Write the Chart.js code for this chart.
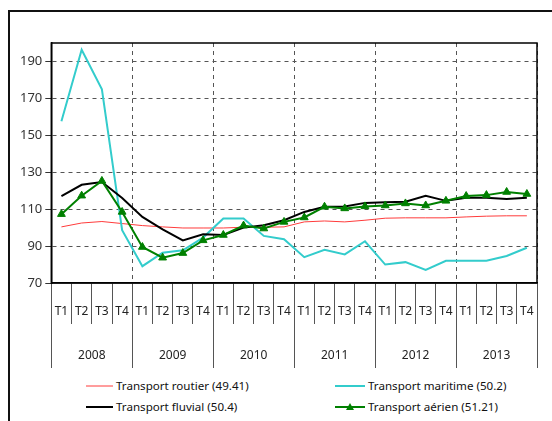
<!DOCTYPE html>
<html>
<head>
<meta charset="utf-8">
<script src="https://cdn.jsdelivr.net/npm/chart.js@4"></script>
<style>
  body { margin: 0; width: 552px; height: 421px; overflow: hidden; background: #fff; position: relative; font-family: "Noto Sans", sans-serif; }
  #frame { position: absolute; left: 8px; top: 10px; width: 600px; height: 500px; border-left: 2px solid #111; border-top: 2px solid #111; }
  #wrap { position: absolute; left: 0; top: 0; width: 552px; height: 368px; }
  #legend { position: absolute; left: 86px; top: 379px; display: grid; grid-template-columns: 249px auto; row-gap: 7px; font-size: 11.6px; line-height: 14px; color: #111; }
  #legend div { white-space: nowrap; display: flex; align-items: center; }
  #legend svg { margin-right: 3px; }
</style>
</head>
<body>
<div id="frame"></div>
<div id="wrap"><canvas id="chart"></canvas></div>
<div id="legend"></div>
<script>
// Catégories
const years = ['2008', '2009', '2010', '2011', '2012', '2013'];
const quarterLabels = ['T1','T2','T3','T4','T1','T2','T3','T4','T1','T2','T3','T4',
                       'T1','T2','T3','T4','T1','T2','T3','T4','T1','T2','T3','T4'];
const yTicks = [70, 90, 110, 130, 150, 170, 190];

// Séries
const routier = [100.4, 102.5, 103.3, 102.2, 101.1, 100.4, 99.8, 99.8, 99.8, 100.2, 100.2, 100.4,
                 103.1, 103.6, 103.1, 104.0, 105.1, 105.3, 105.3, 105.3, 105.8, 106.2, 106.4, 106.4];
const maritime = [157.6, 196.3, 174.9, 98.6, 79.1, 86.4, 87.7, 94.6, 104.9, 104.9, 95.5, 93.7,
                  84.0, 88.0, 85.5, 92.6, 80.0, 81.3, 77.1, 82.0, 82.0, 82.0, 84.6, 89.1];
const fluvial = [117.1, 123.2, 124.7, 116.0, 105.8, 99.1, 93.1, 96.4, 96.0, 100.0, 101.3, 104.0,
                 108.5, 111.3, 111.4, 113.4, 113.8, 114.0, 117.2, 114.5, 116.2, 116.2, 115.5, 116.2];
const aerien = [107.3, 117.3, 125.3, 108.5, 89.5, 83.7, 86.2, 93.1, 96.0, 101.1, 99.5, 103.1,
                105.5, 111.3, 110.4, 111.5, 112.0, 113.1, 112.0, 114.5, 117.1, 117.6, 119.3, 118.2];

const seriesNames = ['Transport routier (49.41)', 'Transport maritime (50.2)',
                     'Transport fluvial (50.4)', 'Transport aérien (51.21)'];
const seriesColors = ['#ff3b3b', '#33cccc', '#000000', '#008000'];

// Cadre de la zone de tracé
const plotFrame = {
    id: 'plotFrame',
    beforeDatasetsDraw(chart) {
        const { ctx, chartArea: a } = chart;
        ctx.save();
        ctx.strokeStyle = '#000';
        ctx.lineWidth = 1.5;
        ctx.strokeRect(a.left, a.top, a.right - a.left, a.bottom - a.top);
        ctx.restore();
    }
};

Chart.defaults.font.family = '"Noto Sans", sans-serif';
Chart.defaults.color = '#222';

const ctx = document.getElementById('chart').getContext('2d');
new Chart(ctx, {
    type: 'line',
    data: {
        labels: quarterLabels,
        datasets: [
            { label: seriesNames[0], data: routier, borderColor: seriesColors[0], borderWidth: 1, pointRadius: 0, order: 3 },
            { label: seriesNames[1], data: maritime, borderColor: seriesColors[1], borderWidth: 2, pointRadius: 0, order: 2 },
            { label: seriesNames[2], data: fluvial, borderColor: seriesColors[2], borderWidth: 2, pointRadius: 0, order: 1 },
            { label: seriesNames[3], data: aerien, borderColor: seriesColors[3], borderWidth: 2,
              pointStyle: 'triangle', pointRadius: 4.5, pointBackgroundColor: seriesColors[3],
              pointBorderColor: seriesColors[3], pointBorderWidth: 1, order: 0 }
        ]
    },
    options: {
        responsive: true,
        maintainAspectRatio: false,
        animation: false,
        layout: { padding: { left: 17, top: 43, right: 15, bottom: 0 } },
        plugins: { legend: { display: false }, tooltip: { enabled: false } },
        scales: {
            y: {
                min: 70,
                max: 200,
                afterBuildTicks: s => { s.ticks = yTicks.map(v => ({ value: v })); },
                grid: {
                    color: c => (c.tick && c.tick.value === 70) ? 'rgba(0,0,0,0)' : '#555',
                    tickColor: '#333',
                    tickLength: 6,
                    tickBorderDash: []
                },
                border: { color: '#000', width: 1.5, dash: [4, 4] },
                ticks: { padding: 3, font: { size: 13 }, color: '#333' }
            },
            x: {
                type: 'category',
                position: 'bottom',
                offset: true,
                weight: 0,
                grid: { offset: true, drawOnChartArea: false, tickLength: 41, tickColor: '#555' },
                border: { color: '#000', width: 1.5 },
                ticks: { autoSkip: false, maxRotation: 0, padding: -19.5, font: { size: 12 } },
                afterFit: s => { s.height = 41; }
            },
            x2: {
                type: 'category',
                labels: years,
                position: 'bottom',
                offset: true,
                weight: 1,
                grid: { offset: true, drawOnChartArea: true, color: '#555', tickLength: 44, tickColor: '#555', tickBorderDash: [] },
                border: { display: false, dash: [4, 4] },
                ticks: { maxRotation: 0, padding: -19.5, font: { size: 12 } },
                afterFit: s => { s.height = 44; }
            }
        }
    },
    plugins: [plotFrame]
});

// Légende
const legend = document.getElementById('legend');
seriesNames.forEach((name, i) => {
    const item = document.createElement('div');
    const w = i % 2 === 0 ? 27 : 30;
    const lw = i === 0 ? 1 : 2;
    const tri = i === 3 ? `<polygon points="${w / 2 - 4},8 ${w / 2 + 4},8 ${w / 2},1" fill="${seriesColors[i]}"/>` : '';
    item.innerHTML = `<svg width="${w}" height="10"><line x1="0" y1="5" x2="${w}" y2="5" stroke="${seriesColors[i]}" stroke-width="${lw}"/>${tri}</svg><span>${name}</span>`;
    legend.appendChild(item);
});
</script>
</body>
</html>
